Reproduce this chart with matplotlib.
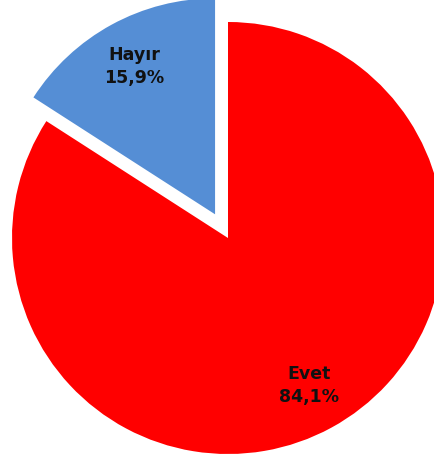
import matplotlib
matplotlib.use('Agg')
import matplotlib.pyplot as plt

categories = ['Evet', 'Hayır']
values = [84.1, 15.9]
colors = ['#FF0000', '#558ED5']
explode_frac = [0, 0.125]

W, H = 435, 459
R = 216
fig = plt.figure(figsize=(W / 100, H / 100), dpi=100)
ax = fig.add_axes([0, 0, 1, 1])

# pie drawn in pixel units, so explode is given in the same units
wedges, texts, autotexts = ax.pie(
    values, colors=colors, explode=[e * R for e in explode_frac],
    startangle=90, counterclock=False,
    center=(228, H - 238), radius=R, autopct='%1.1f%%', pctdistance=0.78,
    wedgeprops=dict(linewidth=0), frame=False)

for t, name, v in zip(autotexts, categories, values):
    t.set_text(f"{name}\n{v:.1f}%".replace('.', ','))
    t.set_fontsize(12.5)
    t.set_fontweight('bold')
    t.set_color('#111111')
    t.set_linespacing(1.35)
    t.set_horizontalalignment('center')
    t.set_multialignment('center')

ax.set_xlim(0, W)
ax.set_ylim(0, H)
ax.set_aspect('equal')
ax.axis('off')

fig.savefig('out.png', dpi=100)
